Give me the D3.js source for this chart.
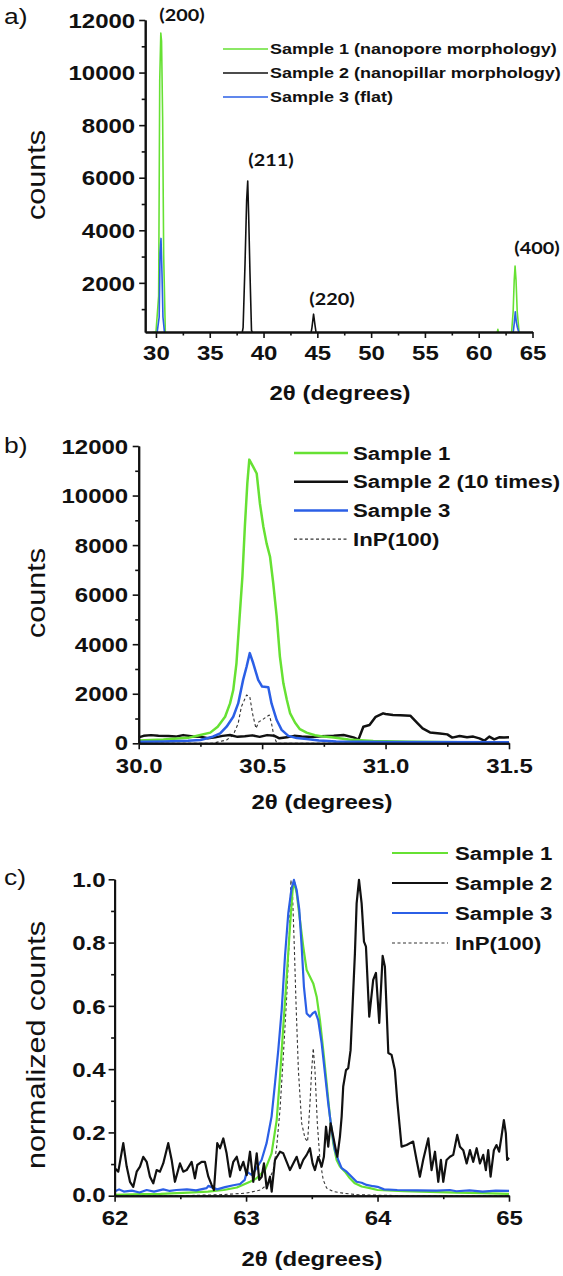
<!DOCTYPE html>
<html><head><meta charset="utf-8">
<script src="https://cdn.jsdelivr.net/npm/d3@7"></script>
<style>
body{margin:0;background:#fff}
svg{display:block}
text{font-family:Arial,"Liberation Sans",sans-serif;fill:#111}
</style>
</head><body>
<svg id="chart" width="563" height="1276"></svg>
<script>
// ---------------- DATA ----------------
// Panel a: full 2θ scan (counts)
const scanSample1 = [[29.0,60],[30.0,130],[30.25,1500],[30.35,9700],[30.45,11500],[30.52,11200],[30.62,8300],[30.72,3000],[30.87,130],[31.0,60],
  [61.7,60],[61.78,230],[61.86,60],[63.05,80],[63.2,900],[63.3,2100],[63.38,2640],[63.47,2100],[63.58,900],[63.75,150],[63.9,60],[65.0,60]];
const scanSample2 = [[29.0,60],[38.0,60],[38.1,300],[38.28,2740],[38.43,5150],[38.53,5870],[38.62,4510],[38.74,2360],[38.88,200],[39.0,60],
  [44.4,60],[44.5,300],[44.65,808],[44.78,400],[44.9,60],[65.0,60]];
const scanSample3 = [[29.0,60],[30.1,80],[30.3,700],[30.38,3130],[30.47,3690],[30.56,2370],[30.65,700],[30.8,80],[31.0,60],
  [63.2,80],[63.3,450],[63.4,896],[63.5,500],[63.6,300],[63.75,80],[65.0,60]];
const peakLabels = ["(200)","(211)","(220)","(400)"];
const legendA = ["Sample 1 (nanopore morphology)","Sample 2 (nanopillar morphology)","Sample 3 (flat)"];

// Panel b: (200) region, counts (Sample 2 multiplied by 10)
const zoomSample1 = [[30.00,110],[30.10,150],[30.20,220],[30.25,335],[30.29,430],[30.32,670],[30.35,1070],[30.37,1610],[30.383,2150],[30.396,3230],[30.407,4840],[30.42,6720],[30.43,8740],[30.44,10490],[30.448,11450],[30.464,11160],[30.478,10890],[30.491,9680],[30.505,8740],[30.518,8070],[30.532,7530],[30.545,6460],[30.559,5110],[30.572,3500],[30.586,2420],[30.60,1760],[30.613,1220],[30.633,840],[30.653,570],[30.68,430],[30.714,325],[30.75,270],[30.79,230],[30.85,150],[30.95,90],[31.1,60],[31.3,45],[31.5,40]];
const zoomSample2x10 = [[30.00,240],[30.02,300],[30.05,330],[30.08,300],[30.12,290],[30.15,270],[30.18,330],[30.22,270],[30.25,265],[30.28,200],[30.31,240],[30.34,300],[30.37,335],[30.40,260],[30.43,280],[30.46,320],[30.49,260],[30.52,330],[30.55,300],[30.57,200],[30.60,240],[30.63,300],[30.66,270],[30.70,250],[30.74,280],[30.79,305],[30.83,335],[30.87,240],[30.89,150],[30.91,670],[30.935,740],[30.96,1070],[30.99,1210],[31.00,1180],[31.03,1140],[31.06,1130],[31.10,1115],[31.13,805],[31.15,600],[31.18,440],[31.22,400],[31.25,360],[31.27,230],[31.30,295],[31.33,240],[31.355,270],[31.38,200],[31.40,105],[31.42,270],[31.44,160],[31.46,240],[31.48,230],[31.50,240]];
const zoomSample3 = [[30.00,60],[30.10,70],[30.20,100],[30.25,130],[30.30,265],[30.33,400],[30.356,670],[30.383,1070],[30.403,1610],[30.423,2560],[30.437,3090],[30.45,3640],[30.464,3230],[30.484,2560],[30.50,2290],[30.525,2260],[30.538,1610],[30.559,940],[30.579,540],[30.606,300],[30.64,210],[30.68,170],[30.73,110],[30.8,70],[31.0,50],[31.5,40]];
const zoomInP = [[30.00,0],[30.30,0],[30.356,135],[30.383,335],[30.403,805],[30.416,1480],[30.437,1950],[30.45,1880],[30.461,1210],[30.475,600],[30.487,875],[30.50,940],[30.518,1075],[30.529,1140],[30.538,805],[30.548,270],[30.56,0],[31.5,0]];
const legendB = ["Sample 1","Sample 2 (10 times)","Sample 3","InP(100)"];

// Panel c: (400) region, normalized counts
const normSample1 = [[62.00,0.003],[62.20,0.005],[62.35,0.006],[62.56,0.010],[62.71,0.013],[62.83,0.018],[62.93,0.026],[63.03,0.044],[63.08,0.055],[63.144,0.081],[63.194,0.134],[63.233,0.239],[63.258,0.376],[63.283,0.534],[63.309,0.692],[63.334,0.850],[63.354,0.966],[63.367,0.99],[63.385,0.956],[63.41,0.871],[63.435,0.787],[63.461,0.713],[63.486,0.692],[63.511,0.671],[63.537,0.629],[63.562,0.555],[63.587,0.460],[63.613,0.355],[63.638,0.250],[63.663,0.166],[63.689,0.113],[63.714,0.092],[63.752,0.076],[63.79,0.055],[63.828,0.039],[63.879,0.029],[63.942,0.024],[64.0,0.018],[64.2,0.014],[64.4,0.012],[64.6,0.010],[64.8,0.008],[65.0,0.006]];
const normSample2 = [[62.000,0.087],[62.028,0.076],[62.066,0.166],[62.092,0.092],[62.117,0.044],[62.142,0.028],[62.168,0.076],[62.193,0.092],[62.218,0.123],[62.244,0.107],[62.269,0.060],[62.294,0.039],[62.320,0.081],[62.345,0.076],[62.370,0.102],[62.408,0.166],[62.434,0.113],[62.459,0.044],[62.497,0.102],[62.522,0.076],[62.548,0.081],[62.586,0.107],[62.611,0.055],[62.629,0.097],[62.662,0.107],[62.687,0.107],[62.713,0.060],[62.738,0.034],[62.756,0.018],[62.781,0.166],[62.802,0.150],[62.827,0.181],[62.852,0.134],[62.878,0.060],[62.903,0.107],[62.929,0.123],[62.954,0.081],[62.979,0.107],[63.005,0.065],[63.030,0.139],[63.055,0.044],[63.081,0.134],
  [63.100,0.050],[63.119,0.060],[63.136,0.102],[63.157,0.023],[63.182,0.060],[63.195,0.013],[63.220,0.113],[63.258,0.139],[63.283,0.134],[63.309,0.107],[63.334,0.081],[63.359,0.102],[63.385,0.123],[63.410,0.087],[63.435,0.113],[63.461,0.129],[63.486,0.150],[63.506,0.102],[63.524,0.081],[63.549,0.123],[63.575,0.092],[63.592,0.123],[63.608,0.218],[63.625,0.155],[63.643,0.229],[63.663,0.187],[63.678,0.155],[63.694,0.123],[63.714,0.187],[63.727,0.250],[63.739,0.345],[63.760,0.397],[63.777,0.403],[63.795,0.460],[63.811,0.608],[63.828,0.766],[63.841,0.924],[63.859,0.998],
  [63.879,0.924],[63.897,0.803],[63.912,0.787],[63.937,0.566],[63.967,0.682],[63.988,0.704],[64.013,0.546],[64.039,0.758],[64.056,0.724],[64.082,0.451],[64.107,0.445],[64.132,0.397],[64.150,0.300],[64.183,0.155],[64.221,0.160],[64.271,0.171],[64.297,0.113],[64.322,0.060],[64.347,0.113],[64.386,0.181],[64.411,0.081],[64.437,0.139],[64.462,0.044],[64.482,0.113],[64.500,0.044],[64.525,0.113],[64.551,0.123],[64.576,0.129],[64.606,0.192],[64.627,0.155],[64.652,0.144],[64.678,0.102],[64.703,0.144],[64.728,0.107],[64.754,0.150],[64.779,0.102],[64.804,0.129],[64.824,0.081],[64.842,0.144],[64.860,0.060],[64.885,0.144],[64.905,0.160],[64.925,0.139],[64.943,0.187],[64.961,0.239],[64.976,0.197],[64.986,0.113],[65.0,0.12]];
const normSample3 = [[62.00,0.013],[62.034,0.020],[62.07,0.013],[62.131,0.016],[62.19,0.010],[62.244,0.018],[62.30,0.013],[62.37,0.020],[62.42,0.015],[62.47,0.018],[62.55,0.020],[62.62,0.017],[62.70,0.024],[62.713,0.031],[62.78,0.020],[62.84,0.027],[62.903,0.033],[62.954,0.037],[62.99,0.050],[63.005,0.076],[63.042,0.066],[63.08,0.087],[63.118,0.113],[63.156,0.166],[63.194,0.250],[63.22,0.355],[63.245,0.460],[63.271,0.587],[63.296,0.756],[63.321,0.892],[63.346,0.971],[63.364,0.998],[63.385,0.966],[63.405,0.903],[63.423,0.787],[63.44,0.661],[63.461,0.576],[63.486,0.566],[63.506,0.576],[63.526,0.582],[63.549,0.555],[63.575,0.482],[63.60,0.387],[63.625,0.292],[63.651,0.208],[63.676,0.144],[63.701,0.113],[63.727,0.087],[63.765,0.076],[63.803,0.060],[63.841,0.044],[63.879,0.041],[63.917,0.034],[63.967,0.030],[64.0,0.028],[64.05,0.020],[64.15,0.018],[64.3,0.017],[64.45,0.016],[64.55,0.018],[64.6,0.014],[64.7,0.017],[64.8,0.013],[64.9,0.016],[65.0,0.015]];
const normInP = [[62.0,0.0],[62.5,0.0],[62.8,0.003],[63.0,0.008],[63.11,0.018],[63.157,0.034],[63.207,0.081],[63.233,0.155],[63.258,0.271],[63.283,0.439],[63.309,0.629],[63.329,0.819],[63.341,0.998],[63.354,0.945],[63.367,0.787],[63.38,0.608],[63.398,0.397],[63.423,0.229],[63.448,0.182],[63.468,0.171],[63.486,0.292],[63.499,0.397],[63.511,0.466],[63.524,0.397],[63.542,0.229],[63.562,0.113],[63.587,0.050],[63.613,0.024],[63.663,0.013],[63.739,0.008],[63.85,0.003],[64.2,0.0],[65.0,0.0]];
const legendC = ["Sample 1","Sample 2","Sample 3","InP(100)"];

// tick values
const ticksA = {xMajor:[30,35,40,45,50,55,60,65], xMinor:[32.5,37.5,42.5,47.5,52.5,57.5,62.5],
  yMajor:[2000,4000,6000,8000,10000,12000], yMinor:[1000,3000,5000,7000,9000,11000]};
const ticksB = {xMajor:[30.0,30.5,31.0,31.5], xMinor:[30.25,30.75,31.25],
  yMajor:[0,2000,4000,6000,8000,10000,12000], yMinor:[1000,3000,5000,7000,9000,11000]};
const ticksC = {xMajor:[62,63,64,65], xMinor:[62.5,63.5,64.5],
  yMajor:[0,0.2,0.4,0.6,0.8,1.0], yMinor:[0.1,0.3,0.5,0.7,0.9]};

// ---------------- DRAWING ----------------
const GREEN = "#66e133", BLACK = "#111111", BLUE = "#2b5fe6", DASH = "#333";
const SX = 1.2;   // horizontal text stretch of the figure
const svg = d3.select("#chart");

function txt(g, str, x, y, o){
  const t = g.append("text").text(str)
    .attr("transform", `translate(${x},${y})` + (o.rotate ? " scale(1," + SX + ") rotate(-90)" : ` scale(${SX},1)`))
    .attr("font-size", o.size).attr("font-weight", o.weight || "normal")
    .attr("text-anchor", o.anchor || "start");
  if (o.family) t.style("font-family", o.family);
  return t;
}

function panel(cfg){
  const g = svg.append("g");
  const x = d3.scaleLinear().domain(cfg.xDomain).range(cfg.xRange);
  const y = d3.scaleLinear().domain(cfg.yDomain).range(cfg.yRange);
  const cid = "clip_" + cfg.name;
  svg.append("clipPath").attr("id", cid).append("rect")
    .attr("x", cfg.xRange[0]).attr("y", cfg.yRange[1] - 40)
    .attr("width", cfg.xRange[1] - cfg.xRange[0] + 2).attr("height", cfg.yRange[0] - cfg.yRange[1] + 40);
  const line = d3.line().x(d => x(d[0])).y(d => y(d[1]));
  cfg.series.forEach(s => {
    g.append("path").attr("d", line(s.data)).attr("fill", "none")
      .attr("stroke", s.color).attr("stroke-width", s.width)
      .attr("stroke-dasharray", s.dash || null)
      .attr("stroke-linejoin", "round")
      .attr("clip-path", `url(#${cid})`);
  });
  const fs = 20;
  // x axis
  const xa = g.append("g").attr("transform", `translate(0,${cfg.yRange[0]})`);
  xa.append("g").call(d3.axisBottom(x).tickValues(cfg.ticks.xMinor).tickSize(3.5).tickSizeOuter(0).tickFormat(""));
  xa.append("g").call(d3.axisBottom(x).tickValues(cfg.ticks.xMajor).tickSize(6).tickSizeOuter(0).tickFormat(cfg.xFmt));
  // y axis
  const ya = g.append("g").attr("transform", `translate(${cfg.xRange[0]},0)`);
  ya.append("g").call(d3.axisLeft(y).tickValues(cfg.ticks.yMinor).tickSize(3.5).tickSizeOuter(0).tickFormat(""));
  ya.append("g").call(d3.axisLeft(y).tickValues(cfg.ticks.yMajor).tickSize(6).tickSizeOuter(0).tickFormat(cfg.yFmt));
  g.selectAll(".domain").attr("stroke", "#111").attr("stroke-width", 2);
  g.selectAll(".tick line").attr("stroke", "#111").attr("stroke-width", 1.6);
  xa.selectAll("text").attr("y", null).attr("dy", null)
    .attr("transform", `translate(0,${cfg.xLabelOff}) scale(${SX},1)`)
    .attr("font-size", fs).attr("font-weight", "bold").attr("fill", "#111")
    .style("font-family", "Arial, 'Liberation Sans', sans-serif");
  ya.selectAll("text").attr("x", null).attr("dy", null)
    .attr("transform", d => `translate(${-cfg.yLabelOff},${fs*0.36 - (d === cfg.yDomain[0] ? cfg.zeroLift || 0 : 0)}) scale(${SX},1)`)
    .attr("font-size", fs).attr("font-weight", "bold").attr("fill", "#111")
    .style("font-family", "Arial, 'Liberation Sans', sans-serif");
  // titles
  txt(g, cfg.yTitle, cfg.yTitlePos[0], cfg.yTitlePos[1], {size: 25.5, anchor: "middle", rotate: true});
  txt(g, "2θ (degrees)", cfg.xTitlePos[0], cfg.xTitlePos[1], {size: 20, weight: "bold", anchor: "middle"});
  txt(g, cfg.letter, 4, cfg.letterY, {size: 22});
  // legend
  const L = cfg.legend;
  L.labels.forEach((lab, i) => {
    const s = cfg.series[L.order[i]];
    const ly = L.y0 + i * L.dy;
    g.append("line").attr("x1", L.x1).attr("x2", L.x2).attr("y1", ly).attr("y2", ly)
      .attr("stroke", s.color).attr("stroke-width", s.legendWidth || s.width)
      .attr("stroke-dasharray", s.dash || null);
    txt(g, lab, L.tx, ly + L.size * 0.36, {size: L.size, weight: "bold"});
  });
  return {g, x, y};
}

// Panel a
const pa = panel({
  name: "a", xDomain: [29, 65], xRange: [145.2, 532.5], yDomain: [130, 12000], yRange: [332, 20],
  ticks: ticksA, xFmt: d3.format("d"), yFmt: d3.format("d"), xLabelOff: 28, yLabelOff: 10,
  yTitle: "counts", yTitlePos: [45, 175], xTitlePos: [340, 400], letter: "a)", letterY: 24,
  series: [
    {data: scanSample1, color: GREEN, width: 1.6},
    {data: scanSample2, color: BLACK, width: 1.6},
    {data: scanSample3, color: BLUE, width: 1.6}
  ],
  legend: {labels: legendA, order: [0,1,2], x1: 223, x2: 268, tx: 270, y0: 49, dy: 24, size: 15}
});
const peakLabelPos = [[182, 21], [271, 166], [332, 305], [537, 254]];
peakLabels.forEach((lab, i) => {
  txt(pa.g, lab, peakLabelPos[i][0], peakLabelPos[i][1], {size: 16.5, weight: "bold", anchor: "middle", family: "Lato, 'Open Sans', sans-serif"});
});

// Panel b
panel({
  name: "b", xDomain: [30, 31.5], xRange: [138.7, 509], yDomain: [0, 12000], yRange: [743.3, 446],
  ticks: ticksB, xFmt: d3.format(".1f"), yFmt: d3.format("d"), xLabelOff: 29.8, yLabelOff: 10.5, zeroLift: 1,
  yTitle: "counts", yTitlePos: [45, 593], xTitlePos: [322, 809], letter: "b)", letterY: 453,
  series: [
    {data: zoomInP, color: DASH, width: 1.1, dash: "3,2.5"},
    {data: zoomSample2x10, color: BLACK, width: 2.5},
    {data: zoomSample1, color: GREEN, width: 2.5},
    {data: zoomSample3, color: BLUE, width: 2.5}
  ],
  legend: {labels: legendB, order: [2,1,3,0], x1: 294, x2: 348, tx: 353, y0: 453, dy: 28.7, size: 18.5}
});

// Panel c
panel({
  name: "c", xDomain: [62, 65], xRange: [114.6, 509], yDomain: [0, 1], yRange: [1195.7, 879.3],
  ticks: ticksC, xFmt: d3.format("d"), yFmt: d3.format(".1f"), xLabelOff: 29.5, yLabelOff: 9, zeroLift: 1,
  yTitle: "normalized counts", yTitlePos: [45, 1045], xTitlePos: [312, 1266], letter: "c)", letterY: 885,
  series: [
    {data: normInP, color: DASH, width: 1.1, dash: "3,2.5"},
    {data: normSample1, color: GREEN, width: 2.2},
    {data: normSample3, color: BLUE, width: 2.2},
    {data: normSample2, color: BLACK, width: 2.2}
  ],
  legend: {labels: legendC, order: [1,3,2,0], x1: 392, x2: 448, tx: 455, y0: 853, dy: 30, size: 18.5}
});
</script>
</body></html>
